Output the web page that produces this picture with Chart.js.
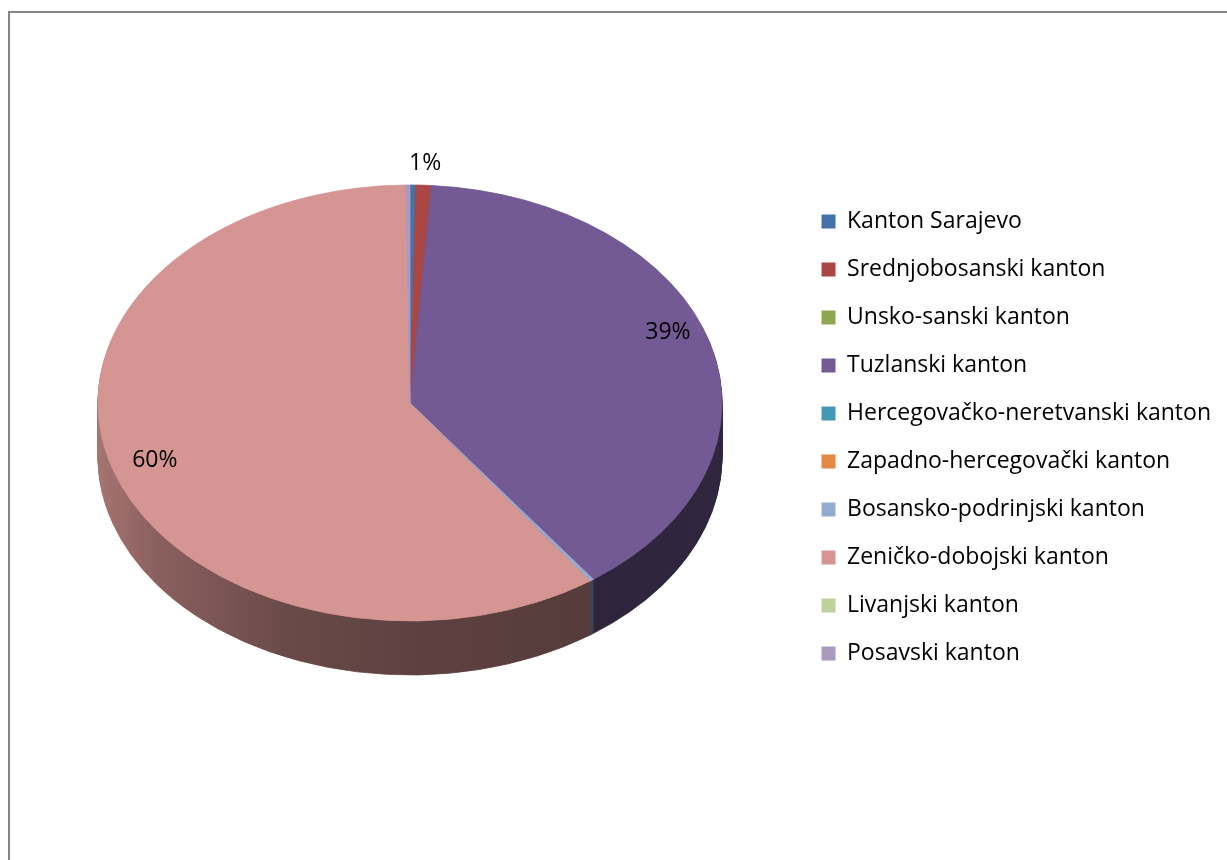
<!DOCTYPE html>
<html lang="bs">
<head>
<meta charset="UTF-8">
<title>Kantoni - pie</title>
<script src="https://cdn.jsdelivr.net/npm/chart.js@4.4.1/dist/chart.umd.min.js"></script>
<style>
  body { margin: 0; background: #fff; }
  #wrap { position: relative; width: 1227px; height: 860px; overflow: hidden; }
  #frame { position: absolute; left: 8px; top: 11px; width: 1240px; height: 870px;
           border-left: 2px solid #868686; border-top: 2px solid #868686; pointer-events: none; }
</style>
</head>
<body>
<div id="wrap">
  <canvas id="myChart" width="1227" height="860"></canvas>
  <div id="frame"></div>
</div>
<script>
// values (percent of total)
const kantoni = [
  'Kanton Sarajevo',
  'Srednjobosanski kanton',
  'Unsko-sanski kanton',
  'Tuzlanski kanton',
  'Hercegovačko-neretvanski kanton',
  'Zapadno-hercegovački kanton',
  'Bosansko-podrinjski kanton',
  'Zeničko-dobojski kanton',
  'Livanjski kanton',
  'Posavski kanton'
];
const udio = [0.3, 0.8, 0, 38.9, 0, 0, 0.2, 59.6, 0, 0.2];
const boje = ['#4672AA', '#AA4644', '#8CA750', '#735A95', '#4499B2',
              '#E18A43', '#94ABD1', '#D59593', '#BDD19A', '#A99BC0'];

// where the flattened pie sits on the page
const TX = 410, TY = 403, RX = 312, RY = 218, DEPTH = 54;

function toEllipse(ctx, arc) {
  const r = arc.outerRadius;
  ctx.translate(TX, TY);
  ctx.scale(RX / r, RY / r);
  ctx.translate(-arc.x, -arc.y);
}

const pie3d = {
  id: 'pie3d',
  beforeDatasetsDraw(chart) {
    const ctx = chart.ctx;
    const arcs = chart.getDatasetMeta(0).data;
    // side wall: the same slices stacked downwards
    for (let d = DEPTH; d >= 1; d--) {
      ctx.save();
      ctx.translate(0, d);
      toEllipse(ctx, arcs[0]);
      arcs.forEach(a => a.draw(ctx));
      ctx.restore();
    }
    // darken the wall, lighter on the left
    ctx.save();
    ctx.globalCompositeOperation = 'source-atop';
    const g = ctx.createLinearGradient(TX - RX, 0, TX + RX, 0);
    g.addColorStop(0, 'rgba(0,0,0,0.22)');
    g.addColorStop(0.1, 'rgba(0,0,0,0.36)');
    g.addColorStop(0.3, 'rgba(0,0,0,0.5)');
    g.addColorStop(0.5, 'rgba(0,0,0,0.56)');
    g.addColorStop(0.8, 'rgba(0,0,0,0.6)');
    g.addColorStop(1, 'rgba(0,0,0,0.58)');
    ctx.fillStyle = g;
    ctx.fillRect(TX - RX - 5, TY - RY - 5, 2 * RX + 10, 2 * RY + DEPTH + 10);
    ctx.restore();
    // top face drawn by chart.js inside this transform
    ctx.save();
    toEllipse(ctx, arcs[0]);
  },
  afterDatasetsDraw(chart) {
    const ctx = chart.ctx;
    ctx.restore();
    const arcs = chart.getDatasetMeta(0).data;
    const total = udio.reduce((s, v) => s + v, 0);
    ctx.save();
    ctx.font = '23px "Open Sans"';
    ctx.fillStyle = '#000';
    ctx.textAlign = 'center';
    ctx.textBaseline = 'middle';
    arcs.forEach((a, i) => {
      const pct = Math.round(udio[i] / total * 100);
      if (pct < 1) return;
      const mid = (a.startAngle + a.endAngle) / 2;
      const f = pct < 5 ? 1.1 : 0.86;
      // right-hand labels sit a bit higher in the original's perspective
      const lift = pct < 5 ? 0 : -20 * Math.max(0, Math.cos(mid));
      ctx.fillText(pct + '%', TX + RX * f * Math.cos(mid), TY + RY * f * Math.sin(mid) + lift);
    });
    ctx.restore();
  }
};

const ctx = document.getElementById('myChart');
new Chart(ctx, {
  type: 'pie',
  data: {
    labels: kantoni,
    datasets: [{
      data: udio,
      backgroundColor: boje,
      borderColor: boje,
      borderWidth: c => (c.raw > 0 ? 1 : 0),
      clip: false
    }]
  },
  options: {
    responsive: false,
    animation: false,
    layout: { padding: { top: 185, right: 6, left: 0, bottom: 0 } },
    plugins: {
      tooltip: { enabled: false },
      legend: {
        position: 'right',
        align: 'start',
        labels: {
          boxWidth: 14,
          boxHeight: 14,
          padding: 25,
          color: '#000',
          font: { family: 'Open Sans', size: 23 },
          generateLabels: chart => Chart.overrides.doughnut.plugins.legend.labels
            .generateLabels(chart).map(l => Object.assign(l, { lineWidth: 0 }))
        }
      }
    }
  },
  plugins: [pie3d]
});
</script>
</body>
</html>
